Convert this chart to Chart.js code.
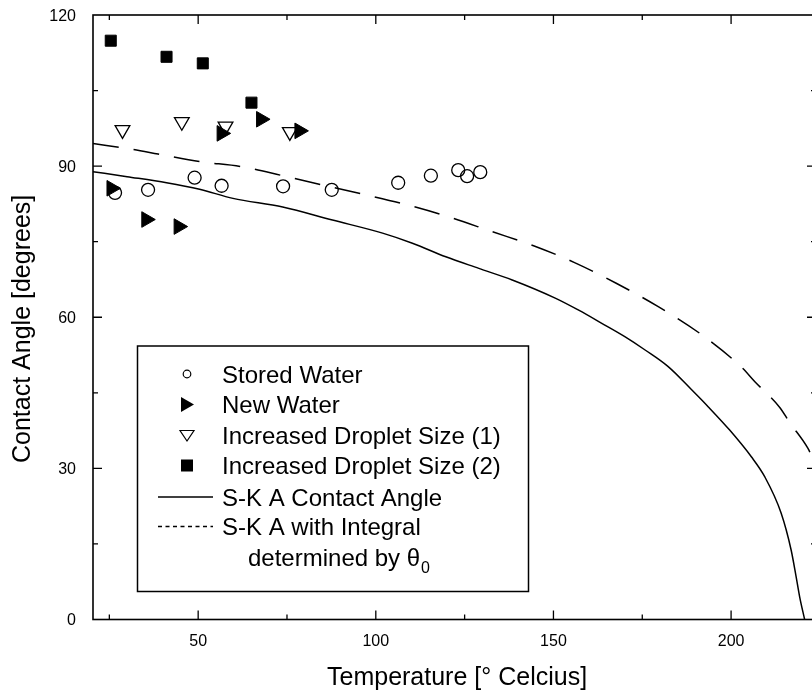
<!DOCTYPE html>
<html>
<head>
<meta charset="utf-8">
<script src="https://cdn.jsdelivr.net/npm/chart.js@4.4.1/dist/chart.umd.min.js"></script>
<style>
  html, body { margin: 0; padding: 0; background: #fff; overflow: hidden; }
  #chart { display: block; }
</style>
</head>
<body>
<canvas id="chart" width="826" height="694"></canvas>
<script>
// values
const storedX = [26.6, 35.9, 49.0, 56.6, 73.9, 87.6, 106.3, 115.5, 123.2, 125.7, 129.4];
const storedY = [84.7, 85.3, 87.7, 86.1, 86.0, 85.3, 86.7, 88.1, 89.2, 88.0, 88.8];
const newX = [25.6, 35.4, 44.5, 56.6, 67.7, 78.5];
const newY = [85.6, 79.4, 78.0, 96.5, 99.3, 97.0];
const drop1X = [28.7, 45.4, 57.7, 75.8];
const drop1Y = [97.2, 98.8, 97.9, 96.8];
const drop2X = [25.4, 41.1, 51.3, 65.0];
const drop2Y = [114.9, 111.7, 110.4, 102.6];

// S-K A contact angle (solid)
const skaX = [20.4, 30, 41.1, 50.4, 59.8, 73.8, 87.8, 101.9, 110.3, 119.7, 129.0, 138.4, 150.5, 157.1,
  163.6, 170.2, 175.8, 182.3, 188.9, 193.6, 199.6, 205.7, 209.5, 214.1, 216.9, 218.3, 219.3, 220.7];
const skaY = [88.9, 87.9, 86.7, 85.4, 83.6, 81.9, 79.3, 76.7, 74.7, 72.0, 69.7, 67.4, 63.8, 61.4,
  58.8, 56.1, 53.5, 50.2, 45.6, 42.2, 37.6, 32.3, 28.3, 21.1, 13.8, 8.5, 4.5, 0];
// S-K A with integral determined by theta0 (dashed)
const intX = [20.4, 31.7, 38.7, 50.4, 62.1, 73.8, 87.8, 97.2, 108.9, 121.1, 132.7, 144.4, 156.1,
  167.8, 179.5, 191.2, 202.9, 206.7, 213.7, 216.5, 221.6, 223.9];
const intY = [94.5, 93.3, 92.4, 90.9, 89.9, 88.1, 85.8, 84.3, 82.3, 79.8, 77.0, 74.2, 70.8,
  66.7, 62.1, 56.8, 50.1, 47.2, 42.1, 39.1, 34.0, 30.6];

const xTicks = [50, 100, 150, 200];
const xMinor = [25, 75, 125, 175];
const yTicks = [0, 30, 60, 90, 120];
const yMinor = [15, 45, 75, 105];

const legendLabels = ['Stored Water', 'New Water', 'Increased Droplet Size (1)',
  'Increased Droplet Size (2)', 'S-K A Contact Angle', 'S-K A with Integral'];

const FONT = '"Liberation Sans", Arial, sans-serif';

function pts(xs, ys) {
  return xs.map((x, i) => ({ x: x, y: ys[i] }));
}

// frame with inward ticks, tick labels, axis titles and the boxed legend
const decorations = {
  id: 'decorations',
  afterDraw(chart) {
    const ctx = chart.ctx;
    const a = chart.chartArea;
    const x = chart.scales.x;
    const y = chart.scales.y;
    ctx.save();
    ctx.strokeStyle = '#000';
    ctx.fillStyle = '#000';

    ctx.lineWidth = 1.6;
    ctx.strokeRect(a.left, a.top, a.right - a.left, a.bottom - a.top);

    ctx.lineWidth = 1.3;
    ctx.beginPath();
    const xt = (v, len) => {
      const p = x.getPixelForValue(v);
      ctx.moveTo(p, a.bottom); ctx.lineTo(p, a.bottom - len);
      ctx.moveTo(p, a.top); ctx.lineTo(p, a.top + len);
    };
    const yt = (v, len) => {
      const p = y.getPixelForValue(v);
      ctx.moveTo(a.left, p); ctx.lineTo(a.left + len, p);
      ctx.moveTo(a.right, p); ctx.lineTo(a.right - len, p);
    };
    xTicks.forEach(v => xt(v, 9));
    xMinor.forEach(v => xt(v, 5));
    yTicks.slice(1, -1).forEach(v => yt(v, 9));
    yMinor.forEach(v => yt(v, 5));
    ctx.stroke();

    // tick labels
    ctx.font = '16px ' + FONT;
    ctx.textBaseline = 'alphabetic';
    ctx.textAlign = 'center';
    xTicks.forEach(v => ctx.fillText(String(v), x.getPixelForValue(v), a.bottom + 26.5));
    ctx.textAlign = 'right';
    yTicks.forEach(v => ctx.fillText(String(v), a.left - 17, y.getPixelForValue(v) + 5.7));

    // axis titles
    ctx.font = '25px ' + FONT;
    ctx.textAlign = 'left';
    ctx.fillText('Temperature [\u00B0 Celcius]', 327, 685);
    ctx.save();
    ctx.translate(29.5, 463);
    ctx.rotate(-Math.PI / 2);
    ctx.fillText('Contact Angle [degrees]', 0, 0);
    ctx.restore();

    // legend box
    ctx.lineWidth = 1.5;
    ctx.strokeRect(137.5, 346, 391, 245.5);
    const mx = 187, tx = 222;
    const rows = [374, 404.5, 435.5, 465.5, 497, 526.5, 557];
    ctx.font = '24px ' + FONT;
    legendLabels.forEach((t, i) => ctx.fillText(t, tx, rows[i] + 8.6));
    ctx.fillText('determined by \u03B8', 248, rows[6] + 8.6);
    const w = ctx.measureText('determined by \u03B8').width;
    ctx.font = '16px ' + FONT;
    ctx.fillText('0', 248 + w + 1, rows[6] + 15.5);

    // legend symbols
    ctx.lineWidth = 1.2;
    ctx.beginPath();
    ctx.arc(mx, rows[0], 3.8, 0, Math.PI * 2);
    ctx.stroke();
    ctx.beginPath();
    ctx.moveTo(mx - 6, rows[1] - 7.5); ctx.lineTo(mx + 7, rows[1]); ctx.lineTo(mx - 6, rows[1] + 7.5);
    ctx.closePath(); ctx.fill();
    ctx.beginPath();
    ctx.moveTo(mx - 7, rows[2] - 5); ctx.lineTo(mx + 7, rows[2] - 5); ctx.lineTo(mx, rows[2] + 5.5);
    ctx.closePath(); ctx.stroke();
    ctx.fillRect(mx - 6, rows[3] - 6, 12, 12);
    ctx.lineWidth = 1.5;
    ctx.beginPath();
    ctx.moveTo(158, rows[4]); ctx.lineTo(213, rows[4]);
    ctx.stroke();
    ctx.setLineDash([4, 3.5]);
    ctx.beginPath();
    ctx.moveTo(158, rows[5]); ctx.lineTo(213, rows[5]);
    ctx.stroke();
    ctx.restore();
  }
};

const lineStyle = {
  type: 'line',
  showLine: true,
  pointRadius: 0,
  borderColor: '#000',
  borderWidth: 1.5,
  fill: false,
  cubicInterpolationMode: 'monotone'
};

new Chart(document.getElementById('chart'), {
  type: 'scatter',
  data: {
    datasets: [
      { label: legendLabels[0], data: pts(storedX, storedY), pointStyle: 'circle', pointRadius: 6.5,
        borderColor: '#000', borderWidth: 1.3, backgroundColor: 'rgba(0,0,0,0)' },
      { label: legendLabels[1], data: pts(newX, newY), pointStyle: 'triangle', rotation: 90, pointRadius: 9,
        borderColor: '#000', borderWidth: 1, backgroundColor: '#000' },
      { label: legendLabels[2], data: pts(drop1X, drop1Y), pointStyle: 'triangle', rotation: 180, pointRadius: 8.5,
        borderColor: '#000', borderWidth: 1.3, backgroundColor: 'rgba(0,0,0,0)' },
      { label: legendLabels[3], data: pts(drop2X, drop2Y), pointStyle: 'rect', pointRadius: 7.8,
        borderColor: '#000', borderWidth: 1, backgroundColor: '#000' },
      Object.assign({ label: legendLabels[4], data: pts(skaX, skaY) }, lineStyle),
      Object.assign({ label: legendLabels[5], data: pts(intX, intY), borderDash: [26, 15] }, lineStyle)
    ]
  },
  options: {
    responsive: false,
    animation: false,
    events: [],
    layout: { padding: { left: 93, right: 8, top: 15, bottom: 74.5 } },
    plugins: { legend: { display: false }, tooltip: { enabled: false } },
    scales: {
      x: { type: 'linear', min: 20.4, max: 223.9, display: false },
      y: { type: 'linear', min: 0, max: 120, display: false }
    }
  },
  plugins: [decorations]
});
</script>
</body>
</html>
